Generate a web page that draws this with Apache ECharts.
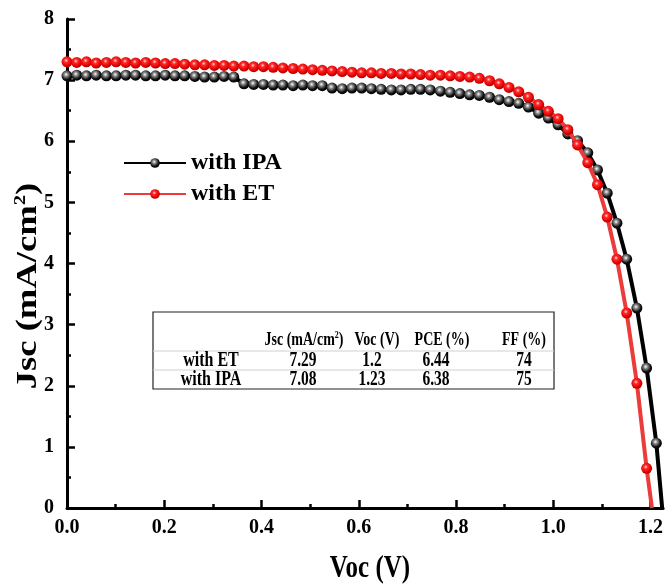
<!DOCTYPE html>
<html>
<head>
<meta charset="utf-8">
<script src="https://cdn.jsdelivr.net/npm/echarts@6/dist/echarts.min.js"></script>
<style>
html,body{margin:0;padding:0;background:#fff;}
#chart{width:666px;height:586px;}
</style>
</head>
<body>
<div id="chart"></div>
<script>
// ---- data ----
const voltage = [0, 0.02, 0.04, 0.06, 0.081, 0.101, 0.121, 0.141, 0.162, 0.182,
  0.202, 0.222, 0.242, 0.263, 0.283, 0.303, 0.323, 0.343, 0.364, 0.384,
  0.404, 0.424, 0.444, 0.465, 0.485, 0.505, 0.525, 0.545, 0.566, 0.586,
  0.606, 0.626, 0.646, 0.667, 0.687, 0.707, 0.727, 0.747, 0.768, 0.788,
  0.808, 0.828, 0.848, 0.869, 0.889, 0.909, 0.929, 0.949, 0.97, 0.99,
  1.01, 1.03, 1.05, 1.071, 1.091, 1.111, 1.131, 1.151, 1.172, 1.192, 1.212];
const jscIPA = [7.07, 7.08, 7.07, 7.08, 7.07, 7.07, 7.08, 7.08, 7.07, 7.07,
  7.08, 7.07, 7.07, 7.06, 7.05, 7.05, 7.06, 7.05, 6.94, 6.93,
  6.93, 6.92, 6.92, 6.91, 6.92, 6.91, 6.91, 6.87, 6.86, 6.87,
  6.87, 6.86, 6.85, 6.84, 6.84, 6.85, 6.85, 6.84, 6.82, 6.80,
  6.78, 6.76, 6.75, 6.72, 6.68, 6.65, 6.62, 6.56, 6.46, 6.38,
  6.27, 6.12, 6.01, 5.81, 5.53, 5.15, 4.66, 4.07, 3.27, 2.29, 1.06];
const jscET = [7.30, 7.29, 7.30, 7.28, 7.29, 7.30, 7.29, 7.28, 7.29, 7.28,
  7.27, 7.27, 7.26, 7.25, 7.25, 7.24, 7.24, 7.23, 7.23, 7.22,
  7.22, 7.21, 7.20, 7.19, 7.18, 7.17, 7.16, 7.15, 7.14, 7.13,
  7.12, 7.12, 7.11, 7.11, 7.10, 7.10, 7.09, 7.08, 7.08, 7.07,
  7.06, 7.05, 7.03, 6.99, 6.94, 6.88, 6.81, 6.72, 6.60, 6.49,
  6.37, 6.19, 5.94, 5.65, 5.29, 4.76, 4.07, 3.19, 2.04, 0.65];
const vocIPA = 1.224;   // curve end on the V axis
const vocET = 1.203;
const xTicks = [0, 0.2, 0.4, 0.6, 0.8, 1.0, 1.2];
const xMinorTicks = [0.1, 0.3, 0.5, 0.7, 0.9, 1.1];
const seriesNames = ['with IPA', 'with ET'];
const xTitle = 'Voc (V)';
const yTitle = 'Jsc (mA/cm{sup|2})';
const tableHeader = ['', 'Jsc (mA/cm{sup|2})', 'Voc (V)', 'PCE (%)', 'FF (%)'];
const tableRows = [
  ['with ET', '7.29', '1.2', '6.44', '74'],
  ['with IPA', '7.08', '1.23', '6.38', '75']
];

// ---- styles ----
const FONT = '"Liberation Serif", "Times New Roman", serif';
const TALL = 1.3;   // reference glyphs are taller than they are wide
const blackBall = {type:'radial', x:0.42, y:0.38, r:0.6, colorStops:[
  {offset:0, color:'#ffffff'}, {offset:0.3, color:'#8a8a8a'}, {offset:0.75, color:'#111'}, {offset:1, color:'#000'}]};
const redBall = {type:'radial', x:0.42, y:0.38, r:0.6, colorStops:[
  {offset:0, color:'#ffe0e0'}, {offset:0.3, color:'#ff2a2a'}, {offset:0.8, color:'#e00000'}, {offset:1, color:'#b00000'}]};

function buildData(js, voc) {
  const d = voltage.slice(0, js.length).map((v, i) => [v, js[i]]);
  d.push({value: [voc, 0], symbol: 'none'});
  return d;
}

const XMAX = 1.226;
const chart = echarts.init(document.getElementById('chart'));

// ---- graphic: axis titles + table ----
const gElems = [];
gElems.push({type:'text', x:370, y:569, scaleY:TALL, z:12, style:{text:xTitle, fill:'#000', fontFamily:FONT,
  fontWeight:'bold', fontSize:25, align:'center', verticalAlign:'middle'}});
gElems.push({type:'text', x:28, y:286, rotation:Math.PI/2, scaleX:1.22, z:12, style:{text:yTitle, fill:'#000', fontFamily:FONT,
  fontWeight:'bold', fontSize:30, align:'center', verticalAlign:'middle',
  rich:{sup:{fontSize:17, fontWeight:'bold', fontFamily:FONT, fill:'#000', padding:[0,0,14,0], verticalAlign:'bottom'}}}});

const tbl = {x0:153, x1:554, y0:312, y1:389, headerBottom:351, rowBottom:370};
const headX = [211, 304, 377, 442, 524];
const colX = [211, 303, 372, 436, 524];
gElems.push({type:'rect', shape:{x:tbl.x0, y:tbl.y0, width:tbl.x1-tbl.x0, height:tbl.y1-tbl.y0},
  style:{fill:'#fff', stroke:'#222', lineWidth:1.2}, z:10});
gElems.push({type:'line', shape:{x1:tbl.x0, y1:tbl.headerBottom, x2:tbl.x1, y2:tbl.headerBottom}, style:{stroke:'#d0d0d0', lineWidth:1}, z:11});
gElems.push({type:'line', shape:{x1:tbl.x0, y1:tbl.rowBottom, x2:tbl.x1, y2:tbl.rowBottom}, style:{stroke:'#d0d0d0', lineWidth:1}, z:11});
tableHeader.forEach((h, i) => {
  if (!h) return;
  gElems.push({type:'text', x:headX[i], y:340, scaleY:TALL, z:12, style:{text:h, fill:'#000', fontFamily:FONT, fontWeight:'bold', fontSize:14,
    align:'center', verticalAlign:'middle',
    rich:{sup:{fontSize:8, fontWeight:'bold', fontFamily:FONT, fill:'#000', padding:[0,0,7,0], verticalAlign:'bottom'}}}});
});
tableRows.forEach((row, r) => {
  const y = r === 0 ? 361 : 380;
  row.forEach((c, i) => {
    gElems.push({type:'text', x:colX[i], y:y, scaleY:TALL, z:12, style:{text:c, fill:'#000', fontFamily:FONT, fontWeight:'bold',
      fontSize: i === 0 ? 16 : 15.5, align:'center', verticalAlign:'middle'}});
  });
});

const axisCommon = {
  axisLine:{show:true, onZero:false, lineStyle:{color:'#000', width:3}},
  splitLine:{show:false}
};

chart.setOption({
  animation:false,
  backgroundColor:'#fff',
  grid:{left:67, right:2, top:19, bottom:78, containLabel:false},
  legend:{
    data: seriesNames, orient:'vertical', left:118, top:146, itemWidth:62, itemHeight:12, itemGap:7,
    textStyle:{fontFamily:FONT, fontWeight:'bold', fontSize:24, color:'#000'}
  },
  xAxis:[{
    type:'value', min:0, max:XMAX, position:'bottom',
    ...axisCommon,
    axisTick:{show:true, inside:true, length:8, lineStyle:{color:'#000', width:2.5}, customValues:xTicks},
    axisLabel:{color:'#000', fontFamily:FONT, fontWeight:'bold', fontSize:20, margin:10,
      customValues:xTicks, formatter:v => v.toFixed(1)}
  },{
    type:'value', min:0, max:XMAX, position:'bottom',
    axisLine:{show:false}, splitLine:{show:false}, axisLabel:{show:false},
    axisTick:{show:true, inside:true, length:4, lineStyle:{color:'#000', width:2.5}, customValues:xMinorTicks}
  }],
  yAxis:{
    type:'value', min:0, max:8, interval:1,
    ...axisCommon,
    axisTick:{show:true, inside:true, length:8, lineStyle:{color:'#000', width:2.5}},
    minorTick:{show:true, splitNumber:2, length:4, lineStyle:{color:'#000', width:2.5}},
    axisLabel:{color:'#000', fontFamily:FONT, fontWeight:'bold', fontSize:20, margin:13}
  },
  series:[{
    name:seriesNames[0], type:'line', xAxisIndex:0, data:buildData(jscIPA, vocIPA),
    symbol:'circle', symbolSize:11, showAllSymbol:true,
    lineStyle:{color:'#000', width:4}, itemStyle:{color:blackBall, borderWidth:0},
    emphasis:{disabled:true}, z:2
  },{
    name:seriesNames[1], type:'line', xAxisIndex:0, data:buildData(jscET, vocET),
    symbol:'circle', symbolSize:11, showAllSymbol:true,
    lineStyle:{color:'#ec3b3b', width:4}, itemStyle:{color:redBall, borderWidth:0},
    emphasis:{disabled:true}, z:3
  }],
  graphic: gElems
});
</script>
</body>
</html>
